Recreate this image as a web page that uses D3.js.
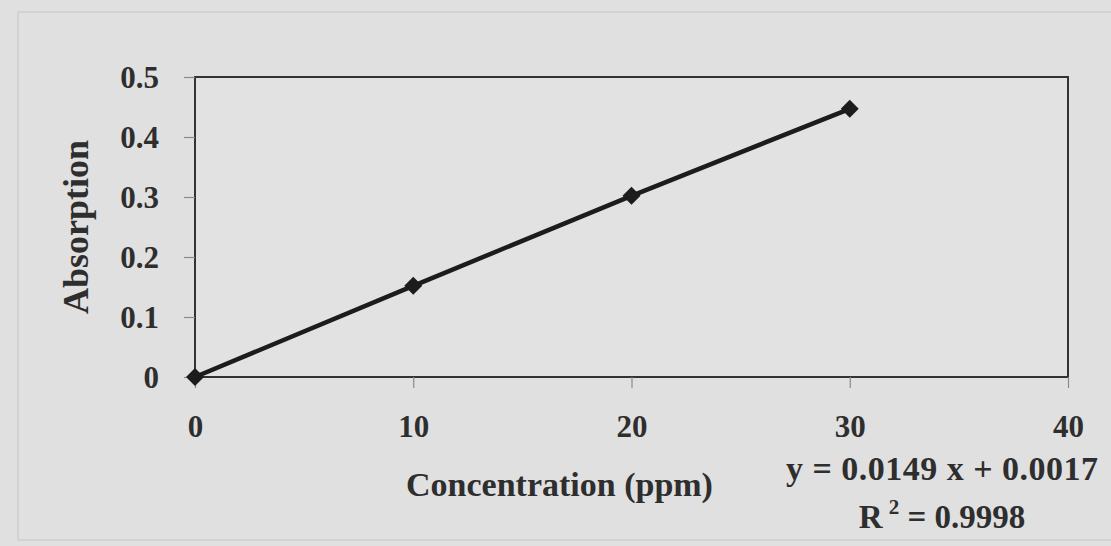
<!DOCTYPE html>
<html>
<head>
<meta charset="utf-8">
<script src="https://cdn.jsdelivr.net/npm/d3@7"></script>
<style>
  html, body { margin: 0; padding: 0; background: #e0e0e0; }
  svg { display: block; }
  text { font-family: "Liberation Serif", "Times New Roman", serif; font-weight: bold; fill: #2e2e2e; }
</style>
</head>
<body>
<svg id="chart" width="1111" height="546"></svg>
<script>
// Calibration data: concentration (ppm) vs. absorption
const concentration = [0, 10, 20, 30];
const absorption = [0, 0.152, 0.302, 0.447];
const xTicks = [0, 10, 20, 30, 40];
const yTicks = [0, 0.1, 0.2, 0.3, 0.4, 0.5];
const xTitle = "Concentration (ppm)";
const yTitle = "Absorption";
const fitLine = "y = 0.0149 x + 0.0017";
const fitR2 = "0.9998";

const svg = d3.select("#chart");
const W = 1111, H = 546;

// page background and faint outer frame
svg.append("rect").attr("width", W).attr("height", H).attr("fill", "#e0e0e0");
svg.append("rect").attr("x", 18).attr("y", 12).attr("width", W - 18 + 2).attr("height", 528)
  .attr("fill", "none").attr("stroke", "#d2d2d2").attr("stroke-width", 2);

const plot = { left: 195, right: 1068, top: 77, bottom: 377 };

const x = d3.scaleLinear().domain([0, 40]).range([plot.left, plot.right]);
const y = d3.scaleLinear().domain([0, 0.5]).range([plot.bottom, plot.top]);

// plot frame
svg.append("rect")
  .attr("x", plot.left).attr("y", plot.top)
  .attr("width", plot.right - plot.left).attr("height", plot.bottom - plot.top)
  .attr("fill", "#e2e2e2").attr("stroke", "#333").attr("stroke-width", 2);

// tick marks (outside) and labels
const xAxis = d3.axisBottom(x).tickValues(xTicks).tickSize(11).tickFormat(d3.format("d"));
const yAxis = d3.axisLeft(y).tickValues(yTicks).tickSize(11).tickFormat(d => d === 0 ? "0" : d3.format(".1f")(d));

function styleTicks(g) {
  g.select(".domain").remove();
  g.selectAll(".tick line").attr("stroke", "#8a8a8a").attr("stroke-width", 1.2);
  g.selectAll(".tick text").attr("font-size", 31).attr("fill", "#2e2e2e")
    .style("font-family", "Liberation Serif").style("font-weight", "bold");
}

const gx = svg.append("g").attr("transform", `translate(0,${plot.bottom})`).call(xAxis);
styleTicks(gx);
gx.selectAll(".tick text").attr("y", 60).attr("dy", 0);

const gy = svg.append("g").attr("transform", `translate(${plot.left},0)`).call(yAxis);
styleTicks(gy);
gy.selectAll(".tick text").attr("x", -36).attr("dy", "0.34em");

// data line and diamond markers
const pts = concentration.map((c, i) => [c, absorption[i]]);
svg.append("path")
  .datum(pts)
  .attr("fill", "none").attr("stroke", "#1c1c1c").attr("stroke-width", 4.5)
  .attr("stroke-linejoin", "round")
  .attr("d", d3.line().x(d => x(d[0])).y(d => y(d[1])));

svg.append("g").selectAll("path")
  .data(pts).join("path")
  .attr("transform", d => `translate(${x(d[0])},${y(d[1])})`)
  .attr("d", "M0,-9L9,0L0,9L-9,0Z")
  .attr("fill", "#1c1c1c");

// axis titles
svg.append("text").attr("x", 406).attr("y", 496)
  .attr("font-size", 34).text(xTitle);
svg.append("text").attr("transform", `translate(88,${(plot.top + plot.bottom) / 2}) rotate(-90)`)
  .attr("text-anchor", "middle").attr("font-size", 36).text(yTitle);

// regression annotation
svg.append("text").attr("x", 786).attr("y", 480)
  .attr("font-size", 34).attr("xml:space", "preserve")
  .attr("textLength", 312).attr("lengthAdjust", "spacing")
  .text(fitLine);
const r2 = svg.append("text").attr("x", 942).attr("y", 528).attr("text-anchor", "middle")
  .attr("font-size", 33).attr("xml:space", "preserve");
r2.append("tspan").text("R");
r2.append("tspan").attr("dy", -14).attr("font-size", 21).attr("dx", 6).text("2");
r2.append("tspan").attr("dy", 14).text(" = " + fitR2);
</script>
</body>
</html>
